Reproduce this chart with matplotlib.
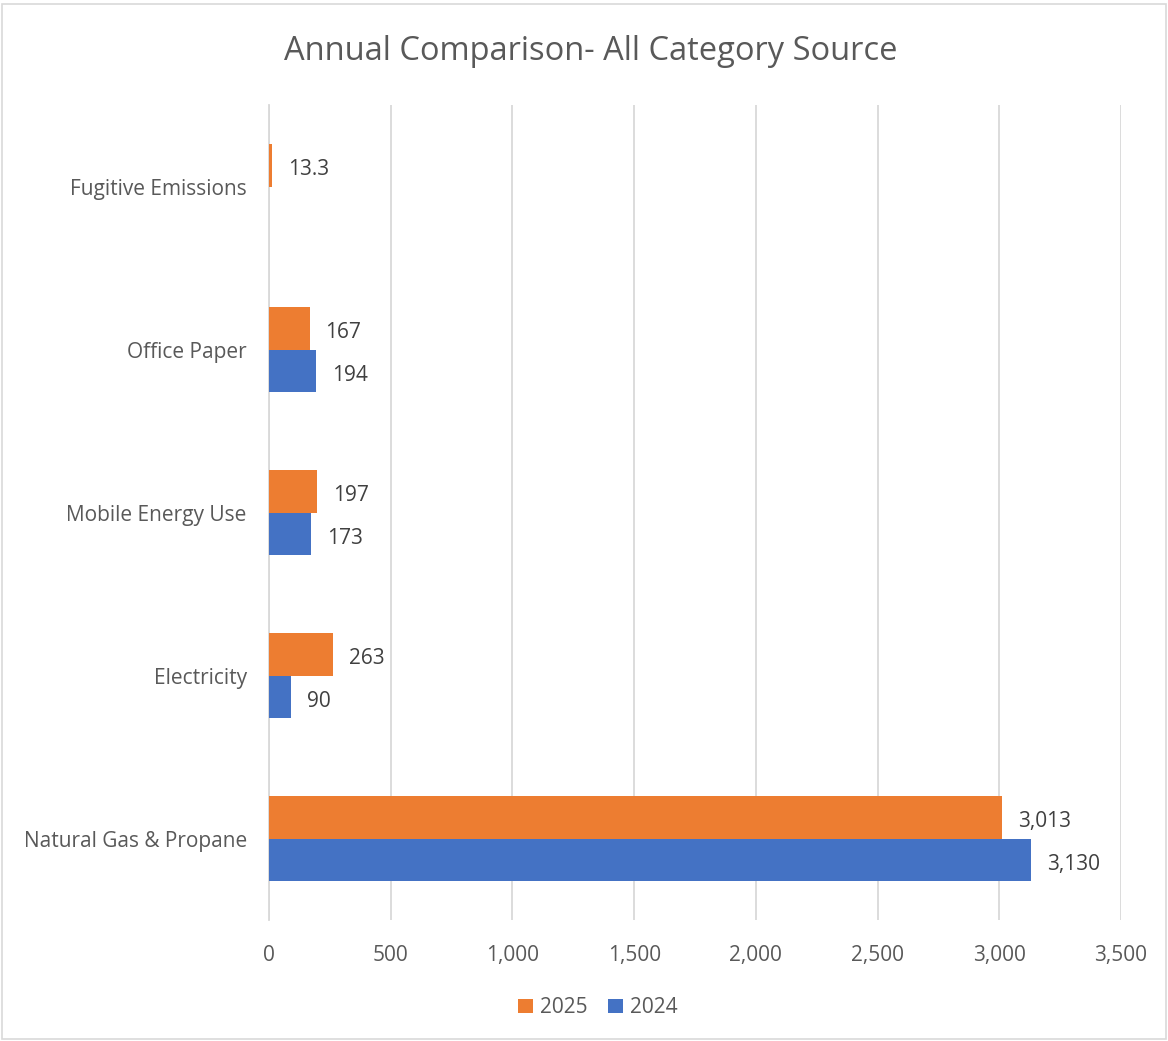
import matplotlib
matplotlib.use("Agg")
from matplotlib import pyplot as plt
from matplotlib.patches import Rectangle
import numpy as np

categories = ["Natural Gas & Propane", "Electricity", "Mobile Energy Use", "Office Paper", "Fugitive Emissions"]
values_2025 = [3013, 263, 197, 167, 13.3]
values_2024 = [3130, 90, 173, 194, None]
labels_2025 = ["3,013", "263", "197", "167", "13.3"]
labels_2024 = ["3,130", "90", "173", "194", ""]

plt.rcParams['font.family'] = ['Open Sans', 'DejaVu Sans']
text_color = "#595959"

fig = plt.figure(figsize=(11.68, 10.41), dpi=100)
ax = fig.add_axes([0.2303, 0.1162, 0.7295, 0.7828])

y = np.arange(len(categories))
h = 0.263
v24 = [v if v is not None else 0 for v in values_2024]
b25 = ax.barh(y + h / 2, values_2025, height=h, color="#ED7D31", label="2025", zorder=3)
b24 = ax.barh(y - h / 2, v24, height=h, color="#4472C4", label="2024", zorder=3)

# small downward nudge so labels sit like excel's
nudge = 0.025
for bar, lab in zip(b25, labels_2025):
    ax.text(bar.get_width() + 65, bar.get_y() + bar.get_height() / 2 - nudge, lab,
            va="center", ha="left", fontsize=15, color="#404040")
for bar, lab in zip(b24, labels_2024):
    if lab:
        ax.text(bar.get_width() + 65, bar.get_y() + bar.get_height() / 2 - nudge, lab,
                va="center", ha="left", fontsize=15, color="#404040")

ax.set_xlim(0, 3500)
ax.set_ylim(-0.5, len(categories) - 0.5)
ax.set_xticks(np.arange(0, 3501, 500))
ax.set_xticklabels([f"{t:,}" for t in range(0, 3501, 500)])
ax.set_yticks(y)
ax.set_yticklabels(categories)
ax.tick_params(axis="both", length=0, labelsize=15, colors=text_color)
ax.tick_params(axis="x", pad=18)
ax.tick_params(axis="y", pad=16)
ax.grid(axis="x", color="#D9D9D9", linewidth=1.3, zorder=0)
for s in ["top", "right", "bottom"]:
    ax.spines[s].set_visible(False)
ax.spines["left"].set_color("#D9D9D9")
ax.spines["left"].set_linewidth(1.3)

fig.text(0.506, 0.951, "Annual Comparison- All Category Source", ha="center", va="center",
         fontsize=23.5, color=text_color)

fig.legend(handles=[b25, b24], loc="center", bbox_to_anchor=(0.512, 0.032), ncol=2, frameon=False,
           fontsize=15, handlelength=0.7, handleheight=0.7, handletextpad=0.35, columnspacing=1.0,
           labelcolor=text_color)

fig.patches.append(Rectangle((0.002, 0.002), 0.996, 0.994, transform=fig.transFigure,
                             fill=False, edgecolor="#D9D9D9", linewidth=1.2))

fig.savefig("out.png", dpi=100)
